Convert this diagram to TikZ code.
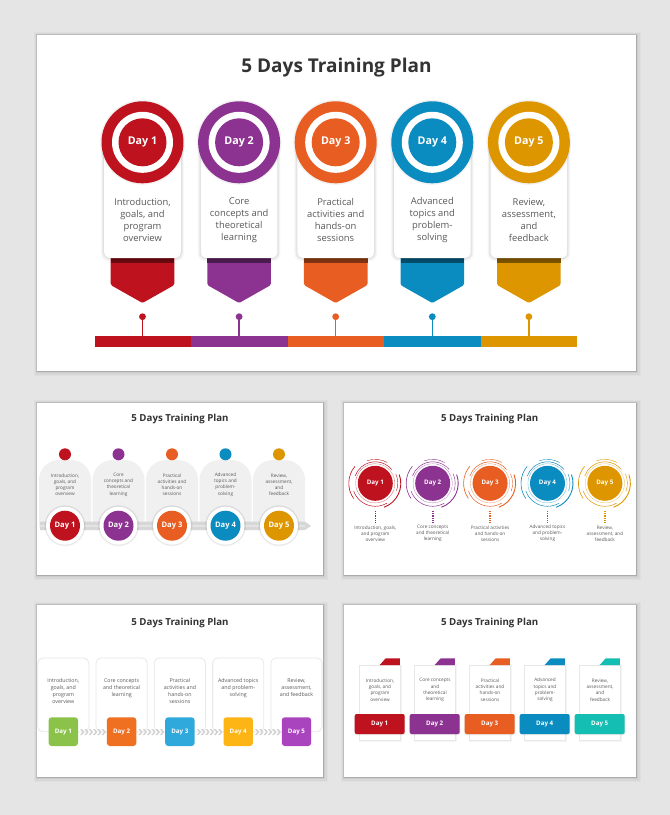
\documentclass[tikz,border=0pt]{standalone}
\usepackage{fontspec}
\setmainfont{Open Sans}
\usetikzlibrary{calc}
\definecolor{bgc}{RGB}{229,229,229}
\definecolor{cRed}{RGB}{190,18,30}
\definecolor{cPur}{RGB}{140,50,144}
\definecolor{cOra}{RGB}{232,94,34}
\definecolor{cBlu}{RGB}{11,140,192}
\definecolor{cGol}{RGB}{222,150,0}
\definecolor{cTeal}{RGB}{20,190,178}
\definecolor{cGrn}{RGB}{139,195,74}
\definecolor{cOrb}{RGB}{240,112,34}
\definecolor{cBlb}{RGB}{47,168,220}
\definecolor{cAmb}{RGB}{253,181,21}
\definecolor{cPub}{RGB}{170,68,190}
\definecolor{titlec}{RGB}{51,51,51}
\definecolor{txtc}{RGB}{89,89,89}
\definecolor{archc}{RGB}{240,240,240}
\definecolor{barc}{RGB}{215,215,215}
\definecolor{chevc}{RGB}{208,208,208}
\definecolor{edgec}{RGB}{232,232,232}
\newcommand\myslide[4]{%
  \foreach \e/\o in {5/0.025,3.5/0.035,2.2/0.05,1.2/0.07,0.5/0.09}{%
    \fill[black,opacity=\o] (#1-\e*0.6,#2-\e*0.6) rectangle (#3+\e,#4+\e);}%
  \fill[white] (#1,#2) rectangle (#3,#4);}
\tikzset{
  ttla/.style={font=\bfseries\fontsize{19}{22}\selectfont, text=titlec, inner sep=0},
  ttlb/.style={font=\bfseries\fontsize{9.7}{11}\selectfont, text=titlec, inner sep=0},
  bodya/.style={font=\fontsize{9.4}{12}\selectfont, text=txtc, align=center, inner sep=0},
  bodyb/.style={font=\fontsize{4.7}{6.2}\selectfont, text=txtc, align=center, inner sep=0},
  bodyc/.style={font=\fontsize{5.3}{7}\selectfont, text=txtc, align=center, inner sep=0},
  daya/.style={font=\bfseries\fontsize{10.7}{12}\selectfont, text=white, inner sep=0},
  dayb/.style={font=\bfseries\fontsize{7.6}{9}\selectfont, text=white, inner sep=0},
  dayc/.style={font=\bfseries\fontsize{6.2}{8}\selectfont, text=white, inner sep=0},
}
\begin{document}
\begin{tikzpicture}[x=1pt,y=-1pt]
\fill[bgc] (0,0) rectangle (670,815);
\useasboundingbox (0,0) rectangle (670,815);

% ================= Slide 1 =================
\myslide{37}{35}{636}{371}
\node[ttla] (t1) at (336.5,67.5) {5 Days Training Plan};
\foreach \i/\col/\txt in {0/cRed/{Introduction,\\goals, and\\program\\overview},
  1/cPur/{Core\\concepts and\\theoretical\\learning},
  2/cOra/{Practical\\activities and\\hands-on\\sessions},
  3/cBlu/{Advanced\\topics and\\problem-\\solving},
  4/cGol/{Review,\\assessment,\\and\\feedback}}{
  \pgfmathsetmacro\cx{142.5+96.6*\i}
  \pgfmathtruncatemacro\n{\i+1}
  % pentagon
  \fill[\col, rounded corners=1.5] (\cx-31.8,257) -- (\cx+31.8,257) -- (\cx+31.8,285) -- (\cx,303) -- (\cx-31.8,285) -- cycle;
  \fill[\col!55!black] (\cx-31.8,257) rectangle (\cx+31.8,262.5);
  % card shadow and card
  \foreach \e/\o in {3/0.03,2/0.04,1/0.05}{
    \fill[black,opacity=\o, rounded corners=7] (\cx-38.3-\e,140) rectangle (\cx+38.3+\e,258+\e);}
  \fill[white, rounded corners=6] (\cx-38.3,140) rectangle (\cx+38.3,258);
  % circle
  \fill[black,opacity=0.05] (\cx,142.3) circle (42.5);
  \fill[\col] (\cx,142.3) circle (41);
  \fill[white] (\cx,142.3) circle (30.5);
  \fill[\col] (\cx,142.3) circle (24);
  \node[daya] (d1\i) at (\cx,142.3) {Day \n};
  \node[bodya] (x1\i) at (\cx,220) {\txt};
  % pin and bar
  \coordinate (p1\i) at (\cx,316.7);
  \coordinate (q1\i) at (\cx,337);
  \draw[\col, line width=1.3] (p1\i) -- (q1\i);
  \fill[\col] (p1\i) circle (3.4);
  \fill[\col] (94.5+96.5*\i,336) rectangle (94.5+96.5*\i+96.6,346.7);
}

% ================= Slide 2 =================
\myslide{37}{403}{323}{575}
\node[ttlb] (t2) at (180,419.3) {5 Days Training Plan};
\foreach \i/\col/\txt in {0/cRed/{Introduction,\\goals, and\\program\\overview},
  1/cPur/{Core\\concepts and\\theoretical\\learning},
  2/cOra/{Practical\\activities and\\hands-on\\sessions},
  3/cBlu/{Advanced\\topics and\\problem-\\solving},
  4/cGol/{Review,\\assessment,\\and\\feedback}}{
  \pgfmathsetmacro\cx{65+53.5*\i}
  \fill[archc] (\cx-26,527) -- (\cx-26,480) arc[start angle=180, end angle=270, radius=20]
     -- (\cx+6,460) arc[start angle=270, end angle=360, radius=20] -- (\cx+26,527) -- cycle;
  \fill[\col] (\cx,454.3) circle (6);
  \node[bodyb] (x2\i) at (\cx,484.6) {\txt};
}
\fill[barc] (40,521.7) -- (305,521.7) -- (311,525.9) -- (305,530) -- (40,530) -- cycle;
\fill[white,opacity=0.35] (40,524.6) rectangle (305,526.6);
\foreach \i/\col in {0/cRed,1/cPur,2/cOra,3/cBlu,4/cGol}{
  \pgfmathsetmacro\cx{65+53.5*\i}
  \pgfmathtruncatemacro\n{\i+1}
  \fill[black,opacity=0.05] (\cx,525.7) circle (20.6);
  \fill[black,opacity=0.05] (\cx,525.7) circle (19.8);
  \fill[white] (\cx,525.7) circle (19);
  \fill[\col] (\cx,525.7) circle (15);
  \node[dayb] (d2\i) at (\cx,525.7) {Day \n};
}

% ================= Slide 3 =================
\myslide{344}{403}{636}{575}
\node[ttlb] (t3) at (489.7,419.3) {5 Days Training Plan};
\foreach \i/\col/\txt in {0/cRed/{Introduction, goals,\\and program\\overview},
  1/cPur/{Core concepts\\and theoretical\\learning},
  2/cOra/{Practical activities\\and hands-on\\sessions},
  3/cBlu/{Advanced topics\\and problem-\\solving},
  4/cGol/{Review,\\assessment, and\\feedback}}{
  \pgfmathsetmacro\cx{375.3+57.4*\i}
  \pgfmathtruncatemacro\n{\i+1}
  \coordinate (c3\i) at (\cx,483.3);
  \fill[\col] (c3\i) circle (17.5);
  \draw[\col, line width=0.35, dash pattern=on 0.5pt off 0.6pt] (c3\i) circle (19.6);
  \draw[\col, line width=0.5] (c3\i) ++(-40:21.5) arc[start angle=-40, end angle=-160, radius=21.5];
  \draw[\col, line width=0.5] (c3\i) ++(-200:23) arc[start angle=-200, end angle=-300, radius=23];
  \draw[\col, line width=0.9] (c3\i) ++(70:25.5) arc[start angle=70, end angle=-20, radius=25.5];
  \draw[\col, line width=0.6] (c3\i) ++(-140:26.5) arc[start angle=-140, end angle=-215, radius=26.5];
  \draw[\col, line width=0.4] (c3\i) ++(-60:24) arc[start angle=-60, end angle=-110, radius=24];
  \draw[\col, line width=0.4] (c3\i) ++(20:22.5) arc[start angle=20, end angle=-25, radius=22.5];
  \node[dayc] (d3\i) at (c3\i) {Day \n};
  \coordinate (u3\i) at (\cx,511);
  \coordinate (v3\i) at (\cx,522);
  \draw[\col, line width=1.6, dash pattern=on 1pt off 0.8pt] (u3\i) -- (v3\i);
  \node[bodyb] (x3\i) at (\cx,533.5) {\txt};
}

% ================= Slide 4 =================
\myslide{37}{605}{323}{777}
\node[ttlb] (t4) at (180,623.3) {5 Days Training Plan};
\foreach \i/\col/\txt in {0/cGrn/{Introduction,\\goals, and\\program\\overview},
  1/cOrb/{Core concepts\\and theoretical\\learning},
  2/cBlb/{Practical\\activities and\\hands-on\\sessions},
  3/cAmb/{Advanced topics\\and problem-\\solving},
  4/cPub/{Review,\\assessment,\\and feedback}}{
  \pgfmathsetmacro\cx{63.3+58.3*\i}
  \pgfmathtruncatemacro\n{\i+1}
  \filldraw[fill=white, draw=edgec, line width=0.8, rounded corners=5] (\cx-25.6,658) rectangle (\cx+25.6,731.7);
  \node[bodyc, anchor=north] (x4\i) at (\cx,678) {\txt};
  \fill[\col, rounded corners=3] (\cx-14.7,717.3) rectangle (\cx+14.7,746);
  \node[dayc] (d4\i) at (\cx,731.7) {Day \n};
}
\foreach \i in {0,1,2,3}{
  \foreach \j in {0,...,5}{
    \pgfmathsetmacro\hx{63.3+58.3*\i+16.8+4.3*\j}
    \fill[chevc] (\hx,729) -- (\hx+1.8,729) -- (\hx+4.3,732) -- (\hx+1.8,735) -- (\hx,735) -- (\hx+2.5,732) -- cycle;
  }
}

% ================= Slide 5 =================
\myslide{344}{605}{636}{777}
\node[ttlb] (t5) at (489.7,623.3) {5 Days Training Plan};
\foreach \i/\col/\txt in {0/cRed/{Introduction,\\goals, and\\program\\overview},
  1/cPur/{Core concepts\\and\\theoretical\\learning},
  2/cOra/{Practical\\activities and\\hands-on\\sessions},
  3/cBlu/{Advanced\\topics and\\problem-\\solving},
  4/cTeal/{Review,\\assessment,\\and\\feedback}}{
  \pgfmathsetmacro\cx{380+55*\i}
  \pgfmathtruncatemacro\n{\i+1}
  \fill[black,opacity=0.04] (\cx-21.3,665) rectangle (\cx+21.6,741.9);
  \filldraw[fill=white, draw=edgec, line width=0.5] (\cx-20.3,665) rectangle (\cx+20.3,740.7);
  \fill[\col] (\cx-0.3,665) -- (\cx+5.7,658.3) -- (\cx+19.9,658.3) -- (\cx+19.9,665) -- cycle;
  \node[bodyb] (x5\i) at (\cx,690) {\txt};
  \fill[black,opacity=0.08, rounded corners=2] (\cx-25.3,714.6) rectangle (\cx+25.3,735);
  \fill[\col, rounded corners=2] (\cx-25.3,714) rectangle (\cx+24.7,734);
  \node[dayc] (d5\i) at (\cx-0.3,724) {Day \n};
}
\end{tikzpicture}
\end{document}
